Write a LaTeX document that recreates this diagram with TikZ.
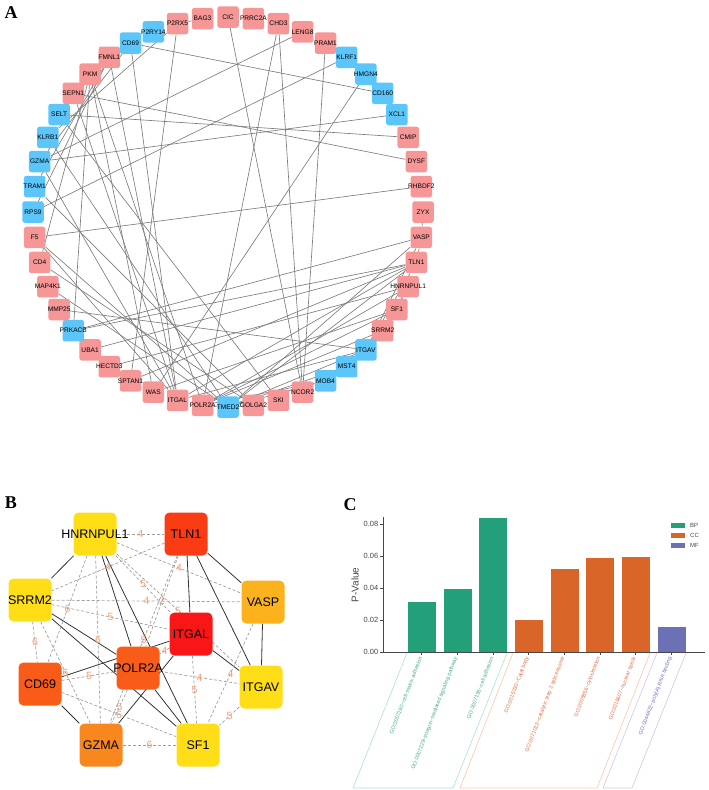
\documentclass[tikz,border=0pt]{standalone}
\usepackage{fontspec}
\setmainfont{Liberation Sans}
\newfontfamily\panelfont{Liberation Serif}
\usetikzlibrary{backgrounds}
\definecolor{pinkA}{RGB}{246,150,150}
\definecolor{blueA}{RGB}{92,198,250}
\definecolor{edgeA}{RGB}{125,125,125}
\definecolor{hubYel}{RGB}{255,222,23}
\definecolor{hubRed}{RGB}{248,22,22}
\definecolor{hubTln}{RGB}{250,60,20}
\definecolor{hubOra}{RGB}{248,92,24}
\definecolor{hubGzm}{RGB}{248,136,30}
\definecolor{hubVas}{RGB}{252,178,28}
\definecolor{stepnum}{RGB}{240,160,120}
\definecolor{bpc}{RGB}{35,160,122}
\definecolor{ccc}{RGB}{217,101,40}
\definecolor{mfc}{RGB}{108,112,180}
\definecolor{bptxt}{RGB}{70,170,138}
\definecolor{cctxt}{RGB}{226,110,70}
\definecolor{mftxt}{RGB}{110,115,192}
\definecolor{bpbox}{RGB}{170,225,210}
\definecolor{ccbox}{RGB}{248,200,175}
\definecolor{mfbox}{RGB}{200,200,235}
\definecolor{axisc}{RGB}{70,70,70}
\begin{document}
\begin{tikzpicture}[x=1pt,y=-1pt,
  gene/.style={rounded corners=2.5pt,minimum size=21.5pt,inner sep=0pt},
  pk/.style={gene,fill=pinkA},
  bl/.style={gene,fill=blueA},
  genetext/.style={font=\fontsize{6.6}{7}\selectfont,inner sep=0pt},
  ppi/.style={draw=edgeA,line width=0.65pt},
  hub/.style={rounded corners=5pt,minimum size=43pt,inner sep=0pt},
  hubtext/.style={font=\fontsize{12.5}{14}\selectfont,inner sep=0pt},
  direct/.style={draw=black!80,line width=0.8pt},
  indirect/.style={draw=gray!75,dash pattern=on 3pt off 2pt,line width=0.7pt},
  steps/.style={text=stepnum,font=\fontsize{10.5}{10.5}\selectfont,inner sep=0pt},
  panel/.style={font=\panelfont\bfseries\fontsize{18}{18}\selectfont,inner sep=0pt},
  golabel/.style={rotate=69,anchor=east,inner sep=0pt,font=\fontsize{5.4}{5.4}\selectfont}
]
\useasboundingbox (0,0) rectangle (709,790);

\node[panel] at (11,13) {A};
\node[panel] at (11,503) {B};
\node[panel] at (350,505) {C};

% A: network of the module genes
\foreach \name/\col [count=\i from 0] in {CIC/pk,PRRC2A/pk,CHD3/pk,LENG8/pk,PRAM1/pk,KLRF1/bl,HMGN4/bl,CD160/bl,XCL1/bl,CMIP/pk,DYSF/pk,RHBDF2/pk,ZYX/pk,VASP/pk,TLN1/pk,HNRNPUL1/pk,SF1/pk,SRRM2/pk,ITGAV/bl,MST4/bl,MOB4/bl,NCOR2/pk,SKI/pk,GOLGA2/pk,TMED2/bl,POLR2A/pk,ITGAL/pk,WAS/pk,SPTAN1/pk,HECTD3/pk,UBA1/pk,PRKACB/bl,MMP25/pk,MAP4K1/pk,CD4/pk,F5/pk,RPS9/bl,TRAM1/bl,GZMA/bl,KLRB1/bl,SELT/bl,SEPN1/pk,PKM/pk,FMNL1/pk,CD69/bl,P2RY14/bl,P2RX5/pk,BAG3/pk}
  \node[\col,label={[genetext]center:\name}] (a-\name) at ({228+195*cos(90-7.5*\i)},{212-195*sin(90-7.5*\i)}) {};

\begin{scope}[on background layer]
\foreach \u/\v in {CD69/CD160,SELT/CMIP,SEPN1/DYSF,GZMA/XCL1,GZMA/LENG8,F5/RHBDF2,KLRF1/RPS9,HMGN4/WAS,CIC/NCOR2,CHD3/NCOR2,CHD3/POLR2A,PRAM1/NCOR2,P2RX5/SPTAN1,P2RX5/BAG3,P2RX5/KLRB1,ZYX/VASP,PRKACB/VASP,PRKACB/TLN1,UBA1/TLN1,HECTD3/HNRNPUL1,MMP25/ITGAV,TLN1/VASP,TLN1/ITGAL,TLN1/ITGAV,VASP/ITGAV,ITGAL/ITGAV,CD69/ITGAL,CD69/GZMA,GZMA/ITGAL,HNRNPUL1/SRRM2,HNRNPUL1/POLR2A,HNRNPUL1/SF1,SRRM2/POLR2A,SRRM2/SF1,POLR2A/SF1,TLN1/SPTAN1,TLN1/TMED2,VASP/TMED2,MST4/TMED2,MOB4/TMED2,MOB4/POLR2A,ITGAV/TMED2,SF1/WAS,TRAM1/GOLGA2,F5/TMED2,F5/ITGAL,CD4/GOLGA2,CD4/PKM,MAP4K1/TMED2,KLRB1/TMED2,SELT/SKI,SEPN1/ITGAL,PKM/WAS,PKM/POLR2A,PKM/PRKACB,FMNL1/ITGAL,FMNL1/TRAM1,RPS9/FMNL1,GOLGA2/TMED2,POLR2A/TMED2}
  \draw[ppi] (a-\u) -- (a-\v);
\end{scope}

% B: hub genes
\node[hub,fill=hubYel,label={[hubtext]center:HNRNPUL1}] (b-HNRNPUL1) at (95,534) {};
\node[hub,fill=hubTln,label={[hubtext]center:TLN1}] (b-TLN1) at (186,534) {};
\node[hub,fill=hubYel,label={[hubtext]center:SRRM2}] (b-SRRM2) at (30,600) {};
\node[hub,fill=hubVas,label={[hubtext]center:VASP}] (b-VASP) at (263,602) {};
\node[hub,fill=hubRed,label={[hubtext]center:ITGAL}] (b-ITGAL) at (191,634) {};
\node[hub,fill=hubOra,label={[hubtext]center:POLR2A}] (b-POLR2A) at (138,668) {};
\node[hub,fill=hubOra,label={[hubtext]center:CD69}] (b-CD69) at (40,684) {};
\node[hub,fill=hubYel,label={[hubtext]center:ITGAV}] (b-ITGAV) at (261,687) {};
\node[hub,fill=hubGzm,label={[hubtext]center:GZMA}] (b-GZMA) at (101,745) {};
\node[hub,fill=hubYel,label={[hubtext]center:SF1}] (b-SF1) at (198,745) {};

\begin{scope}[on background layer]
\foreach \u/\v in {HNRNPUL1/SRRM2,HNRNPUL1/POLR2A,HNRNPUL1/SF1,TLN1/ITGAL,TLN1/VASP,TLN1/ITGAV,VASP/ITGAV,ITGAL/ITGAV,CD69/ITGAL,GZMA/ITGAL,SRRM2/POLR2A,SRRM2/SF1,CD69/GZMA,POLR2A/SF1}
  \draw[direct] (b-\u) -- (b-\v);
\foreach \u/\v/\n in {HNRNPUL1/TLN1/4,TLN1/SRRM2/4,HNRNPUL1/VASP/4,HNRNPUL1/ITGAL/5,TLN1/POLR2A/2,SRRM2/VASP/4,HNRNPUL1/ITGAV/5,SRRM2/ITGAL/5,HNRNPUL1/CD69/6,SRRM2/CD69/6,TLN1/GZMA/5,ITGAL/POLR2A/4,SRRM2/GZMA/6,CD69/POLR2A/5,POLR2A/ITGAV/4,VASP/SF1/4,ITGAL/SF1/5,HNRNPUL1/GZMA/6,POLR2A/GZMA/5,CD69/SF1/6,GZMA/SF1/6,ITGAV/SF1/5}
  \draw[indirect] (b-\u) -- node[steps] {\n} (b-\v);
\end{scope}

% C: GO enrichment
\draw[bpbox,line width=0.6pt] (407,653) -- (353,788) -- (453,788) -- (507,653);
\draw[ccbox,line width=0.6pt] (513,653) -- (460,788) -- (597,788) -- (650,653);
\draw[mfbox,line width=0.6pt] (657,653) -- (603,788) -- (632,788) -- (686,653);
\foreach \k/\v/\c/\t/\go in {0/0.032/bpc/bptxt/GO:0007160\textasciitilde cell-matrix adhesion,
  1/0.040/bpc/bptxt/GO:0007229\textasciitilde integrin-mediated signaling pathway,
  2/0.084/bpc/bptxt/GO:0007155\textasciitilde cell adhesion,
  3/0.0205/ccc/cctxt/GO:0015030\textasciitilde Cajal body,
  4/0.0525/ccc/cctxt/GO:0071013\textasciitilde catalytic step 2 spliceosome,
  5/0.059/ccc/cctxt/GO:0005856\textasciitilde cytoskeleton,
  6/0.060/ccc/cctxt/GO:0016607\textasciitilde nuclear speck,
  7/0.016/mfc/mftxt/GO:0044822\textasciitilde poly(A) RNA binding} {
  \fill[\c,draw=white,line width=0.4pt] ({407+35.7*\k},652) rectangle ({436+35.7*\k},{652-1600*\v});
  \draw[axisc,line width=0.5pt] ({421.5+35.7*\k},652) -- ({421.5+35.7*\k},655);
  \node[golabel,text=\t] at ({420.5+35.7*\k},657) {\go};
}
\draw[axisc,line width=0.7pt] (383,517) -- (383,652) -- (705,652);
\foreach \k/\lab in {0/0.00,1/0.02,2/0.04,3/0.06,4/0.08} {
  \draw[axisc,line width=0.5pt] (380,{652-32*\k}) -- (383,{652-32*\k});
  \node[anchor=east,inner sep=0pt,text=axisc,font=\fontsize{7.5}{8}\selectfont] at (378.5,{652-32*\k}) {\lab};
}
\node[rotate=90,inner sep=0pt,text=axisc,font=\fontsize{10}{10}\selectfont] at (355,585) {P-Value};
\foreach \c/\lab [count=\j from 0] in {bpc/BP,ccc/CC,mfc/MF} {
  \fill[\c] (671,{522.5+10*\j}) rectangle (685,{528+10*\j});
  \node[anchor=west,inner sep=0pt,text=axisc,font=\fontsize{6}{6}\selectfont] at (690,{525.5+10*\j}) {\lab};
}
\end{tikzpicture}
\end{document}
